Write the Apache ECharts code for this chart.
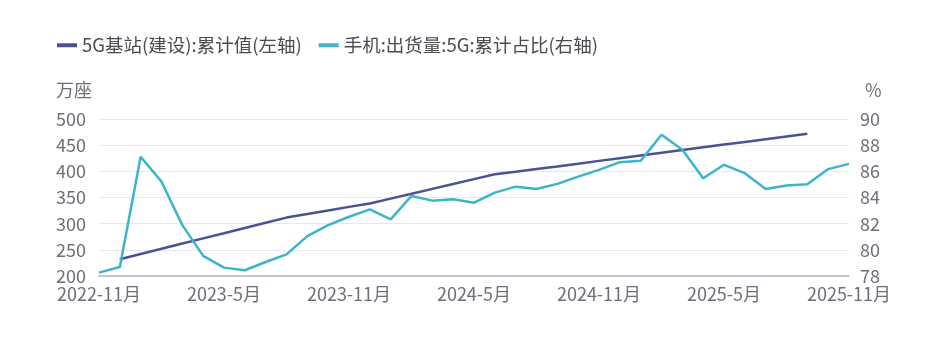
<!DOCTYPE html>
<html>
<head>
<meta charset="utf-8">
<script src="https://cdn.jsdelivr.net/npm/echarts@6/dist/echarts.min.js"></script>
<style>html,body{margin:0;padding:0;background:#fff;}#c{width:937px;height:339px;}</style>
</head>
<body>
<div id="c"></div>
<script>
const categories = ["2022-11月","2022-12月","2023-1月","2023-2月","2023-3月","2023-4月","2023-5月","2023-6月","2023-7月","2023-8月","2023-9月","2023-10月","2023-11月","2023-12月","2024-1月","2024-2月","2024-3月","2024-4月","2024-5月","2024-6月","2024-7月","2024-8月","2024-9月","2024-10月","2024-11月","2024-12月","2025-1月","2025-2月","2025-3月","2025-4月","2025-5月","2025-6月","2025-7月","2025-8月","2025-9月","2025-10月","2025-11月"];
const baseStations = [null,232.0,242.0,252.0,262.0,271.9,281.7,291.7,301.7,311.6,318.4,325.2,332.1,338.5,347.9,357.1,366.5,375.7,385.1,394.3,399.1,404.3,409.4,414.6,420.0,425.2,430.4,435.5,440.7,445.9,451.1,456.2,461.4,466.6,471.8,null,null];
const phoneShare = [78.26,78.69,87.11,85.21,81.89,79.54,78.64,78.44,79.07,79.65,81.05,81.89,82.53,83.09,82.33,84.12,83.76,83.86,83.6,84.37,84.83,84.65,85.04,85.6,86.11,86.7,86.8,88.8,87.65,85.47,86.5,85.86,84.65,84.91,85.01,86.17,86.57];
const seriesNames = ["5G基站(建设):累计值(左轴)","手机:出货量:5G:累计占比(右轴)"];
const leftUnit = "万座", rightUnit = "%";

const chart = echarts.init(document.getElementById('c'), null, {renderer:'canvas'});
const font = "'Noto Sans CJK SC', sans-serif";
const labelColor = '#6e6e78';
chart.setOption({
  animation:false,
  color:['#4a5294','#3cb4c9'],
  textStyle:{fontFamily:font},
  legend:{
    left:52, top:31, itemWidth:20, itemHeight:4, itemGap:17, icon:'rect',
    textStyle:{fontSize:18.5, color:'#4a4a52', fontFamily:font},
    data:seriesNames
  },
  grid:{left:99, right:88, top:119, bottom:63, containLabel:false},
  xAxis:{
    type:'category', boundaryGap:false, data:categories,
    axisLine:{lineStyle:{color:'#c4c4d4', width:2}},
    axisTick:{show:false},
    axisLabel:{interval:5, color:labelColor, fontSize:18, margin:9, fontFamily:font, showMaxLabel:true}
  },
  yAxis:[{
    type:'value', min:200, max:500, interval:50, name:leftUnit,
    nameLocation:'end', nameGap:20, nameTextStyle:{color:labelColor, fontSize:18, align:'right', padding:[0,7,0,0], fontFamily:font},
    axisLabel:{color:labelColor, fontSize:18, margin:13, fontFamily:font},
    axisLine:{show:false}, axisTick:{show:false},
    splitLine:{lineStyle:{color:'#e8e8f2', width:1}}
  },{
    type:'value', min:78, max:90, interval:2, name:rightUnit,
    nameLocation:'end', nameGap:20, nameTextStyle:{color:labelColor, fontSize:18, align:'left', padding:[0,0,0,16], fontFamily:font},
    axisLabel:{color:labelColor, fontSize:18, margin:11, fontFamily:font},
    axisLine:{show:false}, axisTick:{show:false},
    splitLine:{show:false}
  }],
  series:[{
    name:seriesNames[0], type:'line', yAxisIndex:0, data:baseStations,
    showSymbol:false, symbol:'none', lineStyle:{width:2.5}, connectNulls:false
  },{
    name:seriesNames[1], type:'line', yAxisIndex:1, data:phoneShare,
    showSymbol:false, symbol:'none', lineStyle:{width:2.5}
  }]
});
</script>
</body>
</html>
